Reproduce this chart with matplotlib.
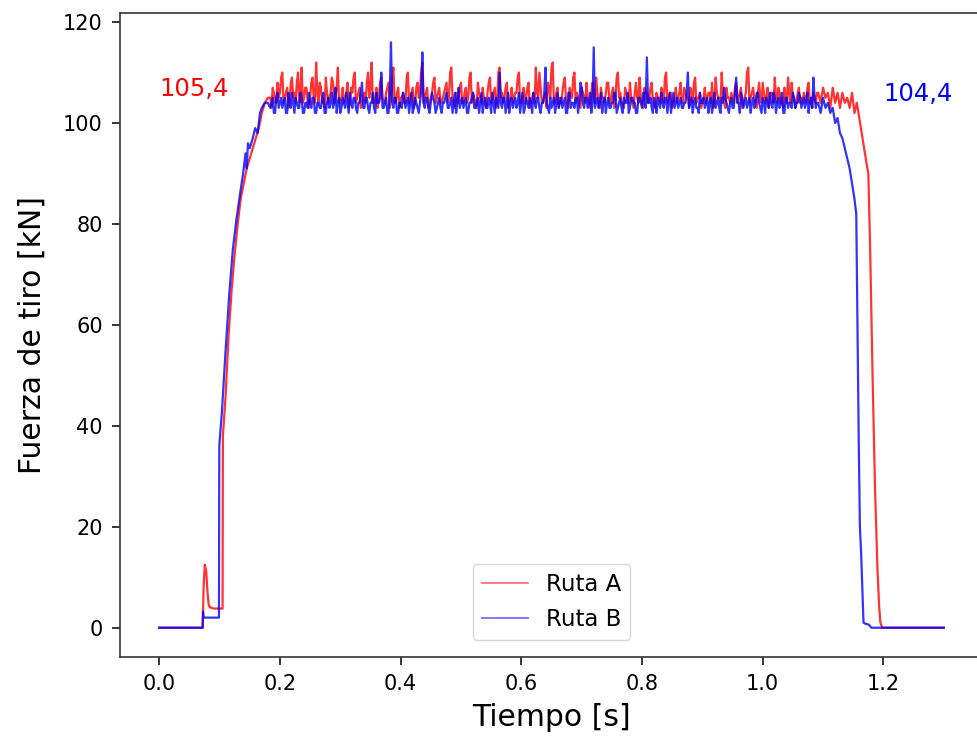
import numpy as np
import matplotlib
matplotlib.use("Agg")
import matplotlib.pyplot as plt

# ---------------- data ----------------
# Ruta A: start-up segment
a_start_t = [0.000, 0.072, 0.0735, 0.0755, 0.078, 0.080, 0.082, 0.084, 0.086, 0.090,
             0.100, 0.105, 0.1055, 0.110, 0.115, 0.120, 0.125, 0.130, 0.135, 0.140,
             0.145, 0.150, 0.155, 0.160, 0.165, 0.170, 0.175, 0.180]
a_start_f = [0.0, 0.0, 8.0, 12.5, 11.0, 7.0, 4.5, 4.0, 4.0, 3.8,
             3.8, 3.8, 38.0, 46.0, 58.0, 67.0, 74.0, 80.0, 85.0, 88.0,
             91.0, 93.0, 95.0, 97.0, 99.0, 102.0, 104.0, 105.0]

# Ruta A: plateau, samples every 0.004 s from 0.184 s (even) and 0.186 s (odd)
a_plateau_t0 = 0.184
a_plateau_dt = 0.004
a_plateau_even = [
    105, 107, 104, 108, 106, 110, 105, 107, 104, 109,
    106, 108, 104, 111, 105, 107, 103, 108, 105, 112,
    104, 107, 105, 109, 104, 106, 108, 105, 111, 104,
    107, 105, 108, 104, 106, 110, 105, 107, 104, 106,
    108, 105, 112, 104, 107, 105, 109, 104, 106, 108,
    105, 111, 104, 107, 105, 106, 104, 110, 105, 107,
    104, 108, 106, 112, 105, 107, 104, 106, 109, 105,
    107, 104, 106, 108, 105, 111, 104, 106, 105, 108,
    104, 107, 105, 110, 106, 104, 108, 105, 107, 104,
    106, 109, 105, 107, 104, 111, 106, 105, 108, 104,
    107, 105, 106, 110, 104, 107, 105, 108, 104, 106,
    111, 105, 107, 104, 106, 108, 105, 112, 104, 107,
    105, 106, 109, 104, 107, 105, 110, 106, 104, 107,
    105, 108, 104, 106, 105, 109, 104, 107, 105, 106,
    108, 104, 107, 105, 110, 106, 104, 107, 105, 108,
    104, 106, 105, 109, 104, 107, 106, 105, 108, 104,
    106, 105, 107, 104, 110, 105, 106, 104, 107, 105,
    108, 104, 106, 105, 107, 104, 109, 105, 106, 104,
    107, 105, 106, 108, 104, 106, 105, 110, 104, 107,
    105, 106, 104, 108, 105, 107, 104, 106, 111, 105,
    107, 104, 106, 105, 108, 104, 107, 105, 106, 109,
    104, 106, 105, 107, 104, 106, 108, 105, 104, 107,
    105, 106, 104, 108, 105, 106, 104,
]
a_plateau_odd = [
    103, 106, 104, 105, 109, 104, 106, 103, 108, 105,
    104, 110, 106, 104, 107, 104, 105, 109, 104, 106,
    108, 104, 103, 106, 105, 109, 104, 107, 104, 105,
    104, 106, 103, 107, 109, 104, 106, 103, 105, 104,
    110, 107, 104, 105, 103, 108, 105, 104, 107, 103,
    109, 104, 106, 103, 105, 104, 109, 104, 106, 103,
    107, 105, 110, 104, 106, 103, 105, 108, 104, 106,
    104, 105, 107, 104, 110, 105, 103, 104, 107, 104,
    106, 104, 109, 104, 105, 103, 106, 104, 105, 103,
    108, 104, 106, 103, 110, 105, 104, 107, 103, 105,
    104, 106, 109, 104, 106, 104, 107, 103, 105, 104,
    106, 110, 104, 105, 103, 107, 111, 104, 106, 103,
    104, 108, 105, 103, 106, 109, 104, 105, 103, 106,
    104, 105, 103, 108, 104, 106, 103, 105, 104, 108,
    104, 106, 103, 109, 105, 104, 103, 106, 104, 105,
    103, 108, 104, 105, 103, 106, 104, 107, 104, 103,
    105, 104, 106, 109, 104, 106, 103, 105, 104, 106,
    104, 107, 105, 103, 106, 108, 104, 105, 103, 105,
    104, 106, 104, 103, 109, 105, 104, 106, 103, 105,
    104, 105, 107, 104, 106, 103, 105, 110, 104, 106,
    105, 103, 108, 104, 106, 105, 103, 106, 104, 105,
    107, 104, 103, 105, 109, 104, 105, 103, 106, 104,
    104, 105, 107, 104, 103, 105, 106,
]

# Ruta A: end segment
a_end_t = [1.092, 1.096, 1.100, 1.104, 1.108, 1.112, 1.116, 1.120, 1.124, 1.128,
           1.132, 1.136, 1.140, 1.144, 1.148, 1.152, 1.156, 1.160, 1.164, 1.168,
           1.172, 1.175, 1.178, 1.182, 1.186, 1.190, 1.193, 1.195, 1.198, 1.300]
a_end_f = [106, 104, 107, 105, 106, 103, 107, 104, 106, 103,
           106, 104, 105, 103, 106, 102, 104, 101, 98, 95,
           92, 90, 75, 50, 28, 12, 4, 1, 0, 0]

# Ruta B: start-up segment
b_start_t = [0.000, 0.072, 0.0725, 0.074, 0.076, 0.090, 0.099, 0.0995, 0.104, 0.110,
             0.116, 0.122, 0.128, 0.134, 0.139, 0.143, 0.145, 0.147, 0.150, 0.155,
             0.159, 0.163, 0.167, 0.170, 0.175, 0.180]
b_start_f = [0.0, 0.0, 3.2, 2.0, 2.0, 2.0, 2.0, 36.0, 43.0, 55.0,
             66.0, 75.0, 81.0, 86.0, 90.0, 94.0, 91.0, 96.0, 95.0, 97.0,
             99.0, 98.0, 102.0, 103.0, 104.0, 104.0]

# Ruta B: plateau, samples every 0.004 s from 0.184 s (even) and 0.186 s (odd)
b_plateau_t0 = 0.184
b_plateau_dt = 0.004
b_plateau_even = [
    103, 105, 102, 106, 104, 103, 105, 102, 104, 106,
    102, 104, 103, 105, 102, 104, 106, 103, 105, 102,
    104, 103, 106, 102, 105, 104, 103, 107, 104, 102,
    105, 103, 104, 106, 103, 105, 102, 104, 108, 103,
    105, 102, 104, 103, 106, 104, 110, 103, 105, 102,
    116, 103, 105, 102, 104, 106, 103, 105, 104, 102,
    105, 103, 104, 114, 103, 105, 102, 106, 104, 103,
    105, 102, 104, 106, 103, 105, 104, 102, 107, 104,
    103, 105, 102, 104, 106, 103, 105, 104, 102, 105,
    103, 104, 106, 102, 104, 110, 103, 105, 104, 102,
    105, 104, 103, 106, 104, 102, 105, 103, 104, 106,
    103, 105, 102, 104, 111, 103, 105, 104, 102, 106,
    104, 103, 105, 102, 106, 104, 103, 105, 104, 107,
    103, 105, 104, 102, 115, 104, 103, 106, 104, 102,
    105, 103, 104, 106, 103, 105, 102, 104, 106, 103,
    105, 104, 102, 105, 103, 106, 113, 104, 103, 105,
    102, 104, 106, 103, 105, 104, 102, 106, 104, 103,
    105, 103, 104, 110, 104, 102, 105, 103, 106, 104,
    103, 105, 104, 102, 106, 104, 103, 105, 107, 104,
    102, 105, 103, 109, 104, 106, 103, 105, 104, 102,
    105, 104, 106, 103, 105, 102, 104, 106, 103, 105,
    104, 103, 106, 102, 105, 104, 103, 105, 104, 106,
    103, 105, 104, 102, 105, 109, 103,
]
b_plateau_odd = [
    104, 102, 105, 103, 105, 104, 102, 106, 103, 104,
    105, 103, 106, 102, 104, 103, 104, 105, 102, 104,
    103, 105, 102, 104, 103, 106, 104, 102, 105, 103,
    104, 106, 102, 104, 105, 103, 104, 106, 103, 105,
    103, 104, 106, 102, 104, 105, 103, 104, 102, 106,
    104, 105, 102, 104, 103, 105, 104, 102, 106, 103,
    104, 102, 106, 104, 105, 103, 104, 105, 102, 104,
    103, 104, 105, 103, 104, 102, 106, 104, 103, 105,
    104, 102, 104, 105, 103, 104, 102, 106, 104, 103,
    105, 102, 104, 105, 103, 104, 105, 102, 106, 104,
    103, 105, 104, 102, 106, 103, 104, 105, 102, 104,
    105, 103, 104, 106, 104, 102, 103, 105, 104, 103,
    105, 104, 102, 106, 103, 104, 105, 102, 108, 104,
    105, 103, 106, 104, 103, 105, 104, 102, 105, 104,
    103, 104, 106, 102, 104, 103, 105, 104, 102, 105,
    104, 102, 105, 104, 106, 103, 104, 105, 102, 104,
    105, 103, 104, 105, 102, 106, 104, 103, 105, 104,
    103, 104, 106, 103, 105, 104, 103, 102, 104, 105,
    104, 102, 105, 104, 103, 105, 102, 104, 105, 103,
    104, 103, 106, 104, 102, 105, 104, 103, 105, 104,
    103, 106, 104, 102, 104, 105, 103, 104, 106, 102,
    105, 104, 102, 105, 103, 104, 106, 103, 104, 105,
    104, 103, 106, 104, 103, 105, 104,
]

# Ruta B: end segment
b_end_t = [1.092, 1.096, 1.100, 1.104, 1.108, 1.112, 1.116, 1.120, 1.124, 1.128,
           1.132, 1.136, 1.140, 1.144, 1.148, 1.152, 1.155, 1.157, 1.159, 1.161,
           1.163, 1.165, 1.167, 1.170, 1.176, 1.180, 1.300]
b_end_f = [104, 102, 105, 103, 104, 102, 103, 100, 101, 98,
           97, 95, 93, 91, 88, 85, 82, 60, 38, 20,
           15, 8, 1, 0.8, 0.6, 0, 0]

labels = ["Ruta A", "Ruta B"]
annot_a = "105,4"
annot_b = "104,4"
annot_a_pos = (0.0, 105.4)
annot_b_pos = (1.2, 104.4)


# ---------------- assemble series ----------------
def interleave(t0, dt, even, odd):
    te = t0 + dt * np.arange(len(even))
    to = te + dt / 2
    t = np.column_stack([te, to]).ravel()
    f = np.column_stack([np.asarray(even, float), np.asarray(odd, float)]).ravel()
    return t, f


a_pt, a_pf = interleave(a_plateau_t0, a_plateau_dt, a_plateau_even, a_plateau_odd)
b_pt, b_pf = interleave(b_plateau_t0, b_plateau_dt, b_plateau_even, b_plateau_odd)
ta = np.concatenate([a_start_t, a_pt, a_end_t])
fa = np.concatenate([a_start_f, a_pf, a_end_f])
tb = np.concatenate([b_start_t, b_pt, b_end_t])
fb = np.concatenate([b_start_f, b_pf, b_end_f])

# ---------------- plot ----------------
fig = plt.figure(figsize=(9.78, 7.44), dpi=100)
ax = fig.add_axes([120 / 978, (744 - 657) / 744, (983 - 120) / 978, (657 - 13) / 744])

ax.plot(ta, fa, color="red", lw=1.6, alpha=0.8, label=labels[0])
ax.plot(tb, fb, color="blue", lw=1.6, alpha=0.8, label=labels[1])

ax.text(*annot_a_pos, annot_a, color="red", fontsize=17.5)
ax.text(*annot_b_pos, annot_b, color="blue", fontsize=17.5)

ax.set_xlim(-0.065, 1.365)
ax.set_ylim(-5.8, 121.8)
ax.set_xticks([0.0, 0.2, 0.4, 0.6, 0.8, 1.0, 1.2])
ax.set_yticks([0, 20, 40, 60, 80, 100, 120])
ax.set_xlabel("Tiempo [s]", fontsize=21.5, labelpad=6)
ax.set_ylabel("Fuerza de tiro [kN]", fontsize=21.5, labelpad=12)
ax.tick_params(labelsize=15, length=5.5, width=1.1, pad=7)
for s in ax.spines.values():
    s.set_linewidth(1.2)
    s.set_color("#333333")

leg = ax.legend(loc="lower center", fontsize=16.5, borderaxespad=0.75)
for h in leg.get_lines():
    h.set_alpha(0.55)
    h.set_linewidth(1.3)

fig.savefig("out.png", dpi=100)
